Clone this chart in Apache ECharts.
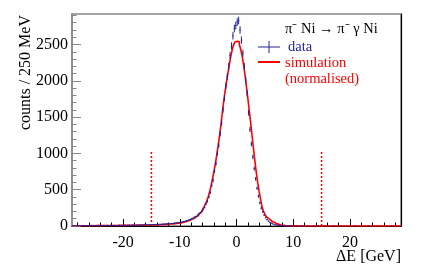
<!DOCTYPE html>
<html><head><meta charset="utf-8">
<script src="https://cdn.jsdelivr.net/npm/echarts@6/dist/echarts.min.js"></script>
<style>html,body{margin:0;padding:0;background:#fff}#c{width:423px;height:273px}</style>
</head><body><div id="c"></div>
<script>
// bins: 0.25 GeV wide, centres from -28.875 to 28.875 (232 bins)
const binFirstCentre = -28.875;
const binWidth = 0.25;
const simulation = [
  // -29 .. -10
  3,3,3,4,3,3,4,4,3,4,4,4,4,5,4,4,5,5,5,5,
  5,5,6,5,6,6,6,6,7,7,7,7,8,8,8,8,9,9,9,9,
  10,10,10,10,11,11,11,12,12,12,12,13,13,14,14,14,15,15,16,16,
  17,18,19,19,20,21,22,24,25,27,29,31,33,35,38,40,
  // -10 .. 0
  43,47,52,57,63,69,76,84,93,103,114,126,140,156,175,196,225,260,300,345,
  400,470,550,640,740,850,970,1100,1240,1390,1560,1720,1860,1990,2110,2230,2340,2430,2500,2535,
  // 0 .. 10
  2545,2540,2500,2430,2340,2220,2080,1920,1760,1590,1420,1240,1060,890,730,590,470,370,260,205,
  165,130,105,85,70,58,48,38,29,22,16,12,9,7,5,4,3,3,2,2,
  // 10 .. 29
  2,2,1,1,1,1,1,1,1,1,1,1,0,1,1,0,1,0,1,0,
  0,1,0,0,1,0,0,1,0,0,0,1,0,0,0,1,0,0,0,0,
  1,0,0,0,0,1,0,0,0,0,0,0,1,0,0,0,0,0,0,0,
  0,0,0,0,0,0,1,0,0,0,0,0,0,0,0,0
];
const dataCounts = [
  // -29 .. -10
  4,2,5,3,2,6,3,4,5,3,6,4,2,5,7,4,5,3,8,5,
  6,4,7,5,9,6,5,8,7,10,6,9,8,11,7,9,10,12,8,11,
  12,9,13,11,10,14,12,15,11,13,16,14,17,15,18,16,20,17,19,22,
  21,24,22,26,25,28,27,31,30,34,33,37,40,42,45,48,
  // -10 .. 0
  50,53,60,62,71,75,84,90,101,108,122,131,147,165,180,203,230,258,305,340,
  400,460,560,630,760,860,1000,1110,1270,1420,1600,1760,1930,2060,2200,2350,2480,2620,2720,2760,
  // 0 .. 10
  2810,2830,2700,2560,2380,2200,2010,1830,1560,1330,1130,950,790,650,520,410,320,245,195,150,
  115,88,68,52,40,30,23,17,12,9,7,5,4,3,2,2,1,1,1,0,
  // 10 .. 29
  1,0,1,0,0,1,0,2,0,0,1,0,0,0,1,0,0,1,0,0,
  0,0,1,0,0,0,0,0,1,0,0,0,0,1,0,0,0,0,0,0,
  0,0,0,1,0,0,0,0,0,0,0,0,0,1,0,0,0,0,0,0,
  0,0,0,0,0,0,0,0,0,1,0,0,0,0,0,0
];
const cutPositions = [-15, 15];
const cutHeight = 1020;
const xMajorTicks = [-20, -10, 0, 10, 20];
const xMinorTicks = [-28,-26,-24,-22,-18,-16,-14,-12,-8,-6,-4,-2,2,4,6,8,12,14,16,18,22,24,26,28];
const yMajorTicks = [0, 500, 1000, 1500, 2000, 2500];
const yMinorTicks = [100,200,300,400,600,700,800,900,1100,1200,1300,1400,1600,1700,1800,1900,2100,2200,2300,2400,2600,2700,2800,2900];

const centres = simulation.map((_, i) => binFirstCentre + i * binWidth);
const simData = centres.map((c, i) => [c, simulation[i]]);
const errData = centres.map((c, i) => [c, dataCounts[i], Math.sqrt(dataCounts[i])]).filter(d => d[1] > 0);

const FONT = 'Liberation Serif, Times New Roman, serif';
const BLUE = '#22229a';
const RED = '#ff0000';
const plain = v => String(v);

const chart = echarts.init(document.getElementById('c'), null, {renderer: 'canvas'});
const cutSeries = cutPositions.map(x => ({
  type: 'line', xAxisIndex: 0, yAxisIndex: 0, symbol: 'none', silent: true,
  data: [[x, 0], [x, cutHeight]],
  lineStyle: {color: RED, width: 1.5, type: [2, 2]}, z: 3
}));

chart.setOption({
  animation: false,
  grid: {left: 72, right: 22, top: 14, bottom: 47, show: true, borderColor: '#888', borderWidth: 1.5},
  xAxis: [
    {type: 'value', min: -29, max: 29, position: 'bottom',
     axisLine: {show: true, onZero: false, lineStyle: {color: '#000', width: 1}},
     axisTick: {show: true, inside: true, length: 7, customValues: xMajorTicks, lineStyle: {color: '#000'}},
     axisLabel: {customValues: xMajorTicks, formatter: plain, color: '#000', fontFamily: FONT, fontSize: 16, margin: 9},
     splitLine: {show: false}},
    {type: 'value', min: -29, max: 29, position: 'bottom',
     axisLine: {show: false, onZero: false},
     axisTick: {show: true, inside: true, length: 3.5, customValues: xMinorTicks, lineStyle: {color: '#000'}},
     axisLabel: {show: false}, splitLine: {show: false}}
  ],
  yAxis: [
    {type: 'value', min: 0, max: 2920, position: 'left',
     axisLine: {show: true, onZero: false, lineStyle: {color: '#888', width: 1.5}},
     axisTick: {show: true, inside: true, length: 9, customValues: yMajorTicks, lineStyle: {color: '#888'}},
     axisLabel: {customValues: yMajorTicks, formatter: plain, color: '#000', fontFamily: FONT, fontSize: 16, margin: 4},
     splitLine: {show: false}},
    {type: 'value', min: 0, max: 2920, position: 'left',
     axisLine: {show: false, onZero: false},
     axisTick: {show: true, inside: true, length: 4.5, customValues: yMinorTicks, lineStyle: {color: '#888'}},
     axisLabel: {show: false}, splitLine: {show: false}},
    {type: 'value', min: 0, max: 2920, position: 'right',
     axisLine: {show: true, onZero: false, lineStyle: {color: '#000', width: 1.2}},
     axisTick: {show: false}, axisLabel: {show: false}, splitLine: {show: false}}
  ],
  series: [
    {type: 'line', step: 'middle', data: simData, symbol: 'none', xAxisIndex: 0, yAxisIndex: 0,
     lineStyle: {color: RED, width: 1.6}, z: 2},
    {type: 'custom', data: errData, xAxisIndex: 0, yAxisIndex: 0, z: 4,
     renderItem(params, api) {
       const x = api.value(0), y = api.value(1), e = api.value(2);
       const lo = Math.max(0, y - e);
       const p1 = api.coord([x, lo]), p2 = api.coord([x, y + e]);
       const h1 = api.coord([x - binWidth / 2, y]), h2 = api.coord([x + binWidth / 2, y]);
       return {type: 'group', children: [
         {type: 'line', shape: {x1: p1[0], y1: p1[1], x2: p2[0], y2: p2[1]}, style: {stroke: BLUE, lineWidth: 1}},
         {type: 'line', shape: {x1: h1[0], y1: h1[1], x2: h2[0], y2: h2[1]}, style: {stroke: BLUE, lineWidth: 1}}
       ]};
     }},
    ...cutSeries
  ],
  graphic: [
    {type: 'text', x: 26, y: 15, rotation: Math.PI / 2,
     style: {text: 'counts / 250 MeV', font: '16px ' + FONT, fill: '#000', align: 'right', verticalAlign: 'middle'}},
    {type: 'text', x: 401, y: 257,
     style: {text: 'ΔE [GeV]', font: '16px ' + FONT, fill: '#000', align: 'right', verticalAlign: 'middle'}},
    {type: 'text', x: 285, y: 29,
     style: {text: 'π⁻ Ni → π⁻ γ Ni', font: '14.5px ' + FONT, fill: '#000', align: 'left', verticalAlign: 'middle'}},
    {type: 'line', shape: {x1: 258, y1: 47, x2: 280, y2: 47}, style: {stroke: BLUE, lineWidth: 1}},
    {type: 'line', shape: {x1: 269, y1: 41, x2: 269, y2: 53}, style: {stroke: BLUE, lineWidth: 1}},
    {type: 'text', x: 288, y: 47,
     style: {text: 'data', font: '14.5px ' + FONT, fill: BLUE, align: 'left', verticalAlign: 'middle'}},
    {type: 'line', shape: {x1: 258, y1: 62, x2: 280, y2: 62}, style: {stroke: RED, lineWidth: 2}},
    {type: 'text', x: 285, y: 63,
     style: {text: 'simulation', font: '14.5px ' + FONT, fill: RED, align: 'left', verticalAlign: 'middle'}},
    {type: 'text', x: 285, y: 79,
     style: {text: '(normalised)', font: '14.5px ' + FONT, fill: RED, align: 'left', verticalAlign: 'middle'}}
  ]
});
</script></body></html>
